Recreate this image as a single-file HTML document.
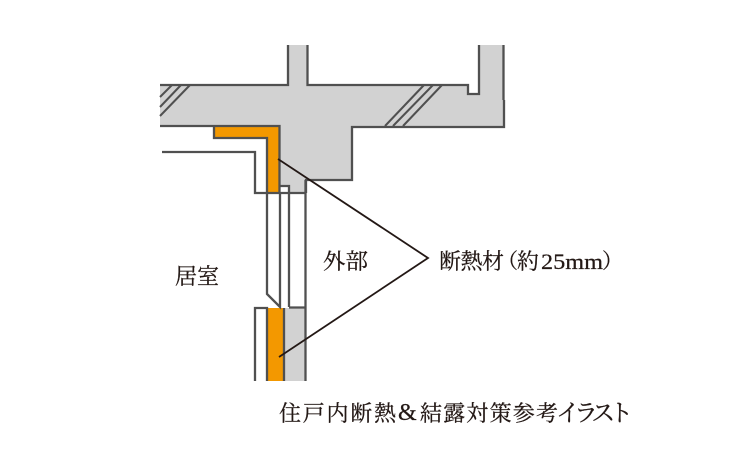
<!DOCTYPE html>
<html lang="ja">
<head>
<meta charset="utf-8">
<title>住戸内断熱&amp;結露対策参考イラスト</title>
<style>
html,body{margin:0;padding:0;background:#fff;width:732px;height:467px;overflow:hidden}
svg{display:block}
text{font-family:"Liberation Serif","Noto Serif CJK SC",serif;fill:#231815;stroke:#231815;stroke-width:.25}
</style>
</head>
<body>
<svg width="732" height="467" viewBox="0 0 732 467" xmlns="http://www.w3.org/2000/svg">
<!-- concrete -->
<path d="M160 85H288V45H307.500V85H468V94H479V45H503.500V127H352V180H306V193H279.500V126H160Z" fill="#d2d2d2"/>
<rect x="284" y="308" width="21" height="73" fill="#d2d2d2"/>
<!-- white frame piece -->
<rect x="280" y="186" width="9" height="7" fill="#fff"/>
<!-- insulation -->
<path d="M214 126H279.500V193H267V138H214Z" fill="#f39800"/>
<rect x="267" y="308" width="17" height="73" fill="#f39800"/>
<g fill="none" stroke="#505050" stroke-width="2.300">
<path d="M160 85H288V45M307.500 45V85H468V94H479V45M503.500 45V100"/>
<path d="M504 100V127H352V180H306V193"/>
<path d="M160 126H279.500V193"/>
<path d="M214 126V138H267V193"/>
<path d="M162 152H255V193H306"/>
<path d="M280 186H289V307"/>
<path d="M267 193V294L280 307V193"/>
<path d="M305.500 180V381"/>
<path d="M289 307.500H305.500"/>
<path d="M255 381V308H267V381"/>
<path d="M284 308V381"/>
</g>
<g fill="none" stroke="#505050" stroke-width="2">
<path d="M172 85L160 97M181 85L160 107M190 85L160 116"/>
<path d="M424 85L385 126M433 85L393 126M442 85L403 126"/>
</g>
<path d="M278 159L428 258L279 357" fill="none" stroke="#231815" stroke-width="1.800"/>
<text x="175" y="284" font-size="22" textLength="44" lengthAdjust="spacingAndGlyphs">居室</text>
<text x="323" y="269" font-size="22" textLength="45" lengthAdjust="spacingAndGlyphs">外部</text>
<text x="439" y="269" font-size="22" textLength="65" lengthAdjust="spacing">断熱材</text>
<text x="497" y="268" font-size="21">（</text>
<text x="517" y="269" font-size="22">約</text>
<text x="541" y="269" font-size="22" textLength="62" lengthAdjust="spacingAndGlyphs">25mm</text>
<text x="602" y="268" font-size="21">）</text>
<text x="279" y="421" font-size="22" textLength="117">住戸内断熱</text>
<text x="398" y="420" font-size="24" textLength="20" lengthAdjust="spacing">&amp;</text>
<text x="420" y="421" font-size="22" textLength="138">結露対策参考</text>
<text x="556" y="421" font-size="24" style="letter-spacing:-6px">イラスト</text>
</svg>
</body>
</html>
